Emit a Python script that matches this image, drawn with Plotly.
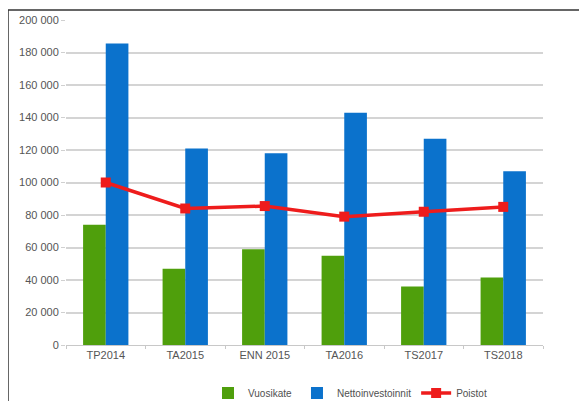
import plotly.graph_objects as go

categories = ["TP2014", "TA2015", "ENN 2015", "TA2016", "TS2017", "TS2018"]
vuosikate = [74000, 47000, 59000, 55000, 36000, 41500]
nettoinvestoinnit = [185500, 121000, 118000, 143000, 127000, 107000]
poistot = [100000, 84000, 85500, 79000, 82000, 85000]
tick_vals = [0, 20000, 40000, 60000, 80000, 100000, 120000, 140000, 160000, 180000, 200000]
tick_text = ["0", "20 000", "40 000", "60 000", "80 000", "100 000", "120 000",
             "140 000", "160 000", "180 000", "200 000"]

fig = go.Figure()
fig.add_trace(go.Bar(x=categories, y=vuosikate, name="Vuosikate",
                     marker=dict(color="#4f9f0c", line=dict(width=0))))
fig.add_trace(go.Bar(x=categories, y=nettoinvestoinnit, name="Nettoinvestoinnit",
                     marker=dict(color="#0b72cc", line=dict(width=0))))
fig.add_trace(go.Scatter(x=categories, y=poistot, name="Poistot", mode="lines+markers",
                         line=dict(color="#ee1c1c", width=3.5),
                         marker=dict(symbol="square", size=10, color="#ee1c1c")))

# page offset of 8px (body margin) -> figure coordinates = page - 8
OFF = 8
W, H = 587 - OFF, 401 - OFF
ml, mr, mt, mb = 66 - OFF, 587 - 543, 20 - OFF, 401 - 345
pw, ph = W - ml - mr, H - mt - mb

def px_x(x):
    return (x - OFF - ml) / pw

def px_y(y):
    return (H - mb - (y - OFF)) / ph

fig.update_layout(
    width=W, height=H,
    margin=dict(l=ml, r=mr, t=mt, b=mb, autoexpand=False),
    paper_bgcolor="white", plot_bgcolor="white",
    barmode="group", bargap=0.43, bargroupgap=0,
    font=dict(family="Liberation Sans, Arial, sans-serif", size=10, color="#505050"),
    showlegend=True,
    legend=dict(orientation="h", x=px_x(350), xanchor="center", y=px_y(393), yanchor="middle",
                font=dict(size=10, color="#505050"), traceorder="normal",
                itemwidth=30, bgcolor="rgba(0,0,0,0)"),
    xaxis=dict(showgrid=False, showline=True, linecolor="#c8c8c8", linewidth=1,
               ticks="outside", tickson="boundaries", ticklen=3, tickcolor="#c8c8c8",
               tickfont=dict(size=11, color="#555555")),
    yaxis=dict(range=[0, 200000], tickvals=tick_vals, ticktext=tick_text,
               showgrid=True, gridcolor="#d4d4d4", gridwidth=1.5, zeroline=False,
               showline=False, ticks="outside", ticklen=4, tickcolor="#d0d0d0",
               tickfont=dict(size=11, color="#555555")),
    shapes=[
        dict(type="line", xref="paper", yref="paper",
             x0=px_x(8), x1=px_x(600), y0=px_y(10), y1=px_y(10),
             line=dict(color="#333333", width=1.5)),
        dict(type="line", xref="paper", yref="paper",
             x0=px_x(8), x1=px_x(8), y0=px_y(10), y1=px_y(410),
             line=dict(color="#333333", width=1.5)),
    ],
)

fig.write_html("out.html")
